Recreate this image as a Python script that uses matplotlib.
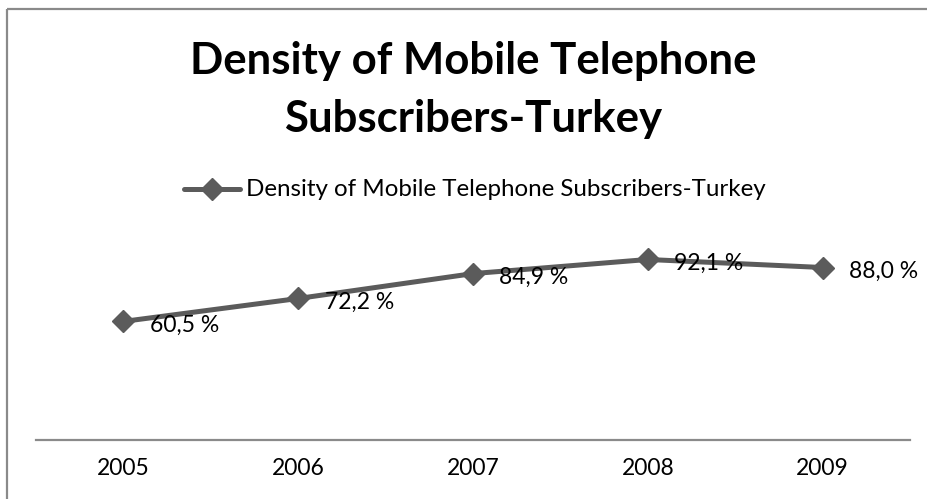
import matplotlib
matplotlib.use("Agg")
import matplotlib.pyplot as plt
from matplotlib.lines import Line2D

years = ["2005", "2006", "2007", "2008", "2009"]
density = [60.5, 72.2, 84.9, 92.1, 88.0]
series_name = "Density of Mobile Telephone Subscribers-Turkey"
title_lines = ["Density of Mobile Telephone", "Subscribers-Turkey"]

FONT = "Lato"
LINE_COLOR = "#5b5b5b"
FRAME_COLOR = "#8a8a8a"
W, H = 927, 499

fig = plt.figure(figsize=(W / 100, H / 100), dpi=100)
fig.patch.set_facecolor("white")

# chart-area frame: top and left edges (the rest runs off the canvas)
fig.lines.append(Line2D([6.5 / W, 1.02], [1 - 8.5 / H, 1 - 8.5 / H],
                        transform=fig.transFigure, color=FRAME_COLOR,
                        linewidth=1.6, solid_capstyle="butt"))
fig.lines.append(Line2D([6.5 / W, 6.5 / W], [-0.02, 1 - 8.5 / H],
                        transform=fig.transFigure, color=FRAME_COLOR,
                        linewidth=1.6, solid_capstyle="butt"))

ax = fig.add_axes([36 / W, 1 - 440 / H, 874 / W, 196 / H])
x = list(range(len(years)))
ax.plot(x, density, color=LINE_COLOR, linewidth=3.6, marker="D",
        markersize=11, markeredgecolor=LINE_COLOR, markerfacecolor=LINE_COLOR,
        solid_capstyle="round", zorder=3)

for xi, v in zip(x, density):
    ax.annotate(f"{v:.1f} %".replace(".", ","), (xi, v), xytext=(19, -2.5),
                textcoords="offset points", ha="left", va="center",
                fontsize=16.5, family=FONT, color="black", zorder=4)

ax.set_xlim(-0.5, len(years) - 0.5)
ax.set_ylim(0, 100)
ax.set_xticks(x)
ax.set_xticklabels(years, family=FONT, fontsize=16.5)
ax.tick_params(axis="x", length=0, pad=13)
ax.set_yticks([])
for side in ("left", "right", "top"):
    ax.spines[side].set_visible(False)
ax.spines["bottom"].set_color(FRAME_COLOR)
ax.spines["bottom"].set_linewidth(1.6)
ax.patch.set_alpha(0)

# title
fig.text(473 / W, 1 - 74 / H, title_lines[0], ha="center", va="baseline",
         family=FONT, fontweight="bold", fontsize=31.5)
fig.text(473 / W, 1 - 132 / H, title_lines[1], ha="center", va="baseline",
         family=FONT, fontweight="bold", fontsize=31.5)

# legend
fig.lines.append(Line2D([184 / W, 240 / W], [1 - 189 / H, 1 - 189 / H],
                        transform=fig.transFigure, color=LINE_COLOR,
                        linewidth=3.6, solid_capstyle="round"))
fig.lines.append(Line2D([212 / W], [1 - 189 / H], transform=fig.transFigure,
                        marker="D", markersize=11, color=LINE_COLOR))
fig.text(246 / W, 1 - 190 / H, series_name, ha="left", va="center",
         family=FONT, fontsize=17.4)

fig.savefig("out.png", dpi=100, facecolor="white")
